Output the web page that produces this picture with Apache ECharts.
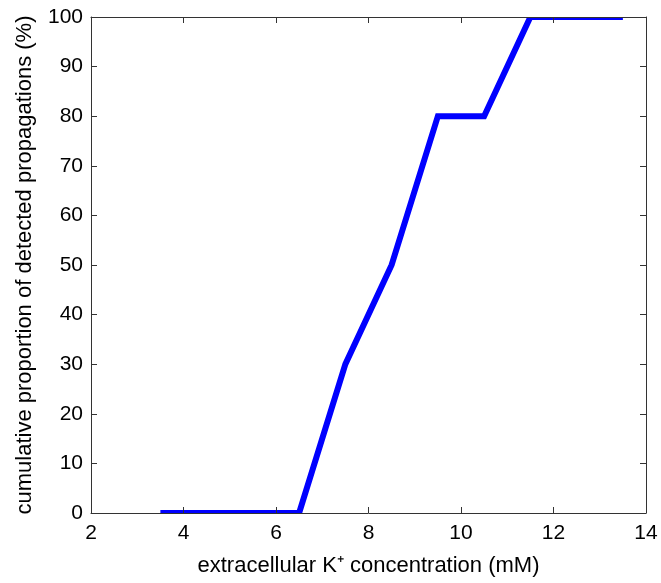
<!DOCTYPE html>
<html>
<head>
<meta charset="utf-8">
<script src="https://cdn.jsdelivr.net/npm/echarts@6/dist/echarts.min.js"></script>
<style>
html,body{margin:0;padding:0;background:#fff;}
#c{width:661px;height:583px;}
</style>
</head>
<body>
<div id="c"></div>
<script>
const xValues = [3.5, 6.5, 7.5, 8.5, 9.5, 10.5, 11.5, 13.5];
const yValues = [0, 0, 30, 50, 80, 80, 100, 100];
const xTitle = 'extracellular K\u207A concentration (mM)';
const yTitle = 'cumulative proportion of detected propagations (%)';

const FONT = 'Liberation Sans, Arial, sans-serif';
const axisColor = '#333';

const chart = echarts.init(document.getElementById('c'), null, {renderer: 'canvas'});
const baseAxis = {
  axisLine: {show: true, onZero: false, lineStyle: {color: axisColor, width: 1}},
  axisTick: {show: true, inside: true, length: 6, lineStyle: {color: axisColor, width: 1}},
  splitLine: {show: false},
  z: 5,
};
const points = xValues.map((x, i) => [x, yValues[i]]);
chart.setOption({
  animation: false,
  backgroundColor: '#fff',
  grid: {left: 91, right: 15, top: 17, bottom: 70, containLabel: false},
  xAxis: [
    Object.assign({}, baseAxis, {
      type: 'value', min: 2, max: 14, interval: 2, position: 'bottom',
      name: xTitle, nameLocation: 'middle', nameGap: 42,
      nameTextStyle: {fontFamily: FONT, fontSize: 22, color: '#000'},
      axisLabel: {fontFamily: FONT, fontSize: 21, color: '#000', margin: 10},
    }),
    Object.assign({}, baseAxis, {
      type: 'value', min: 2, max: 14, interval: 2, position: 'top',
      axisLabel: {show: false},
    }),
  ],
  yAxis: [
    Object.assign({}, baseAxis, {
      type: 'value', min: 0, max: 100, interval: 10, position: 'left',
      name: yTitle, nameLocation: 'middle', nameGap: 55,
      nameTextStyle: {fontFamily: FONT, fontSize: 22, color: '#000'},
      axisLabel: {fontFamily: FONT, fontSize: 21, color: '#000', margin: 8},
    }),
    Object.assign({}, baseAxis, {
      type: 'value', min: 0, max: 100, interval: 10, position: 'right',
      axisLabel: {show: false},
    }),
  ],
  series: [{
    type: 'custom',
    data: points,
    clip: true,
    z: 2,
    renderItem: function (params, api) {
      if (params.dataIndex !== 0) return null;
      const pts = points.map(p => api.coord(p));
      return {
        type: 'polyline',
        shape: {points: pts},
        style: {stroke: '#0000ff', lineWidth: 6, fill: null, lineJoin: 'miter'},
      };
    },
  }],
});
</script>
</body>
</html>
